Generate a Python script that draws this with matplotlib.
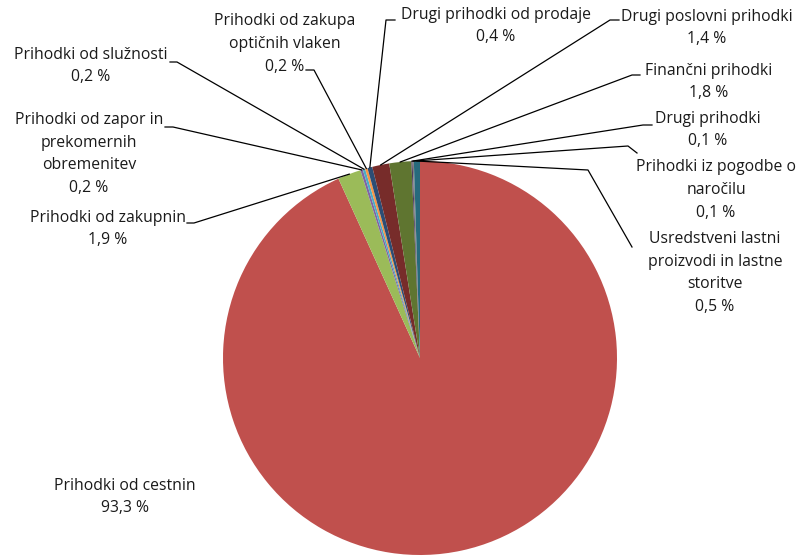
import matplotlib.pyplot as plt
import numpy as np

## data
categories = [
    'Prihodki od cestnin',
    'Prihodki od zakupnin',
    'Prihodki od zapor in\nprekomernih\nobremenitev',
    'Prihodki od služnosti',
    'Prihodki od zakupa\noptičnih vlaken',
    'Drugi prihodki od prodaje',
    'Drugi poslovni prihodki',
    'Finančni prihodki',
    'Drugi prihodki',
    'Prihodki iz pogodbe o\nnaročilu',
    'Usredstveni lastni\nproizvodi in lastne\nstoritve',
]
shares = [93.3, 1.9, 0.2, 0.2, 0.2, 0.4, 1.4, 1.8, 0.1, 0.1, 0.5]

colors = ['#C0504D', '#9BBB59', '#8064A2', '#4BACC6', '#F79646', '#2C4D75',
          '#772C2A', '#5F7530', '#4D3B62', '#7F7F7F', '#276A7C']

# label block centres (pixel coords, y down) and leader elbows
label_pos = [(125, 497), (108, 229), (89, 154), (91, 66), (285, 44),
             (496, 26), (707, 28), (709, 82), (708, 130), (716, 190), (715, 273)]
leaders = [
    None,
    [(187, 223), (194, 223)],
    [(165, 127), (173, 127)],
    [(170, 62), (177, 62)],
    [(306, 70), (314, 70)],
    [(395, 20), (386, 20)],
    [(619, 20), (610, 20)],
    [(640, 75), (632, 75)],
    [(652, 125), (643, 125)],
    [(637, 153), (628, 146)],
    [(632, 247), (588, 170)],
]

cx, cy, r = 420, 358, 197

fig = plt.figure(figsize=(8.03, 5.59), dpi=100)
ax = fig.add_axes([0, 0, 1, 1])

# y axis is flipped, so counterclock in data = clockwise on screen
wedges, _ = ax.pie(shares, colors=colors, startangle=270, counterclock=True,
                   center=(cx, cy), radius=r,
                   wedgeprops=dict(linewidth=0))

ax.set_xlim(0, 803)
ax.set_ylim(559, 0)
ax.set_aspect('equal')
ax.axis('off')

for w, name, v, pos, lead in zip(wedges, categories, shares, label_pos, leaders):
    txt = name + '\n' + ('%.1f %%' % v).replace('.', ',')
    ax.text(pos[0], pos[1], txt, ha='center', va='center', multialignment='center',
            fontsize=11.3, family='Open Sans', linespacing=1.55, color='#1a1a1a')
    if lead is None:
        continue
    ang = np.deg2rad((w.theta1 + w.theta2) / 2)
    px = cx + r * np.cos(ang)
    py = cy + r * np.sin(ang)
    xs = [p[0] for p in lead] + [px]
    ys = [p[1] for p in lead] + [py]
    ax.plot(xs, ys, color='black', lw=0.9)

plt.savefig('out.png', dpi=100)
